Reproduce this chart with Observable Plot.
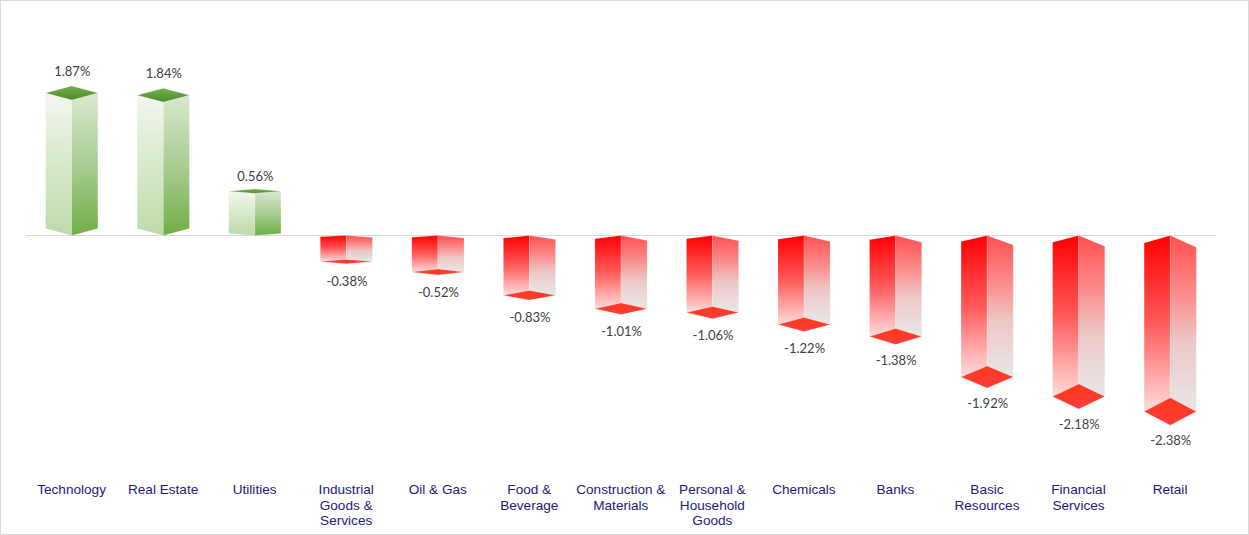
<!DOCTYPE html>
<html>
<head>
<meta charset="utf-8">
<script src="https://cdn.jsdelivr.net/npm/d3@7"></script>
<script src="https://cdn.jsdelivr.net/npm/@observablehq/plot@0.6"></script>
<style>html,body{margin:0;padding:0;background:#fff}svg{display:block}</style>
</head>
<body>
<div id="chart"></div>
<script>
const categories = ["Technology","Real Estate","Utilities","Industrial\nGoods &\nServices","Oil & Gas","Food &\nBeverage","Construction &\nMaterials","Personal &\nHousehold\nGoods","Chemicals","Banks","Basic\nResources","Financial\nServices","Retail"];
const changes = [1.87,1.84,0.56,-0.38,-0.52,-0.83,-1.01,-1.06,-1.22,-1.38,-1.92,-2.18,-2.38];
const rows = categories.map((category,i)=>({category,change:changes[i]}));

const stops = {
  gl:[["0%","#f2f7ee"],["100%","#bcdaa8"]],
  gr:[["0%","#d9e8cf"],["50%","#a9cd92"],["100%","#6fae45"]],
  gt:[["0%","#76b04e"],["100%","#4c8a2a"]],
  rl:[["0%","#ff0000"],["50%","#ff5a5a"],["100%","#ffdcdc"]],
  rr:[["0%","#ff5050"],["35%","#fb8f8f"],["60%","#eec6c6"],["100%","#e8e7e7"]],
  rb:[["0%","#ff3a1c"],["100%","#ff3c3c"]]
};

function bars3d(index, scales, values, dim, ctx){
  const g = d3.select(ctx.document.createElementNS("http://www.w3.org/2000/svg","g"));
  const defs = g.append("defs");
  for (const [id,ss] of Object.entries(stops)){
    const lg = defs.append("linearGradient").attr("id",id).attr("x1",0).attr("y1",0).attr("x2",0).attr("y2",1);
    ss.forEach(([o,c])=>lg.append("stop").attr("offset",o).attr("stop-color",c));
  }
  const bw = scales.scales.x.bandwidth;
  const fy = scales.y;
  const zero = fy(0);
  const base = zero + 2.4;
  const face = (pts,fill)=>g.append("polygon").attr("points",pts.map(p=>p.join(",")).join(" "))
    .attr("fill",`url(#${fill})`).attr("stroke","#fff").attr("stroke-opacity",0.2).attr("stroke-width",0.8);
  for (const i of index){
    const xa = scales.x(rows[i].category), xb = xa+bw, xc = (xa+xb)/2;
    const yv = fy(rows[i].change);
    const h = Math.abs(yv-zero);
    if (rows[i].change >= 0){
      const d = h*0.05, bs = base-h*0.05;
      face([[xa,yv],[xc,yv+d],[xc,base],[xa,bs]],"gl");
      face([[xc,yv+d],[xb,yv],[xb,bs],[xc,base]],"gr");
      face([[xa,yv],[xc,yv-d],[xb,yv],[xc,yv+d]],"gt");
    } else {
      const d = h*0.077;
      const tl = base+h*0.042, tr = base+h*0.066;
      face([[xa,tl],[xc,base],[xc,yv-d],[xa,yv]],"rl");
      face([[xc,base],[xb,tr],[xb,yv],[xc,yv-d]],"rr");
      face([[xa,yv],[xc,yv-d],[xb,yv],[xc,yv+d]],"rb");
    }
  }
  return g.node();
}

const pxPerUnit = 74.94;
const labelY = d => d.change>=0
  ? d.change*(1+5.65/pxPerUnit)+11.4/pxPerUnit
  : d.change*(1+4.33/pxPerUnit)-18.2/pxPerUnit;

const plot = Plot.plot({
  width:1249, height:535,
  marginLeft:26, marginRight:33, marginTop:8, marginBottom:55,
  style:{background:"#fff",outline:"1px solid #d9d9d9",outlineOffset:"-1px",overflow:"visible"},
  x:{type:"band",domain:categories,paddingInner:0.43,paddingOuter:0.215,round:false,axis:null,label:null},
  y:{domain:[-3,3],range:[457.92,8.28],axis:null,label:null},
  marks:[
    Plot.ruleY([0],{dy:1.9,stroke:"#d9d9d9",strokeWidth:1}),
    Plot.barY(rows,{x:"category",y:"change",render:bars3d}),
    Plot.text(rows,{x:"category",y:labelY,text:d=>d.change.toFixed(2)+"%",fill:"#404040",fontFamily:"Lato",fontSize:13,textAnchor:"middle"}),
    Plot.axisX(categories,{anchor:"bottom",tickSize:0,tickPadding:2.5,dx:-0.7,lineAnchor:"top",lineHeight:1.15,fontSize:13.6,fontFamily:"'Liberation Sans'",fill:"#1d1a78",label:null,textOverflow:null})
  ]
});
document.getElementById("chart").append(plot);
</script>
</body>
</html>
